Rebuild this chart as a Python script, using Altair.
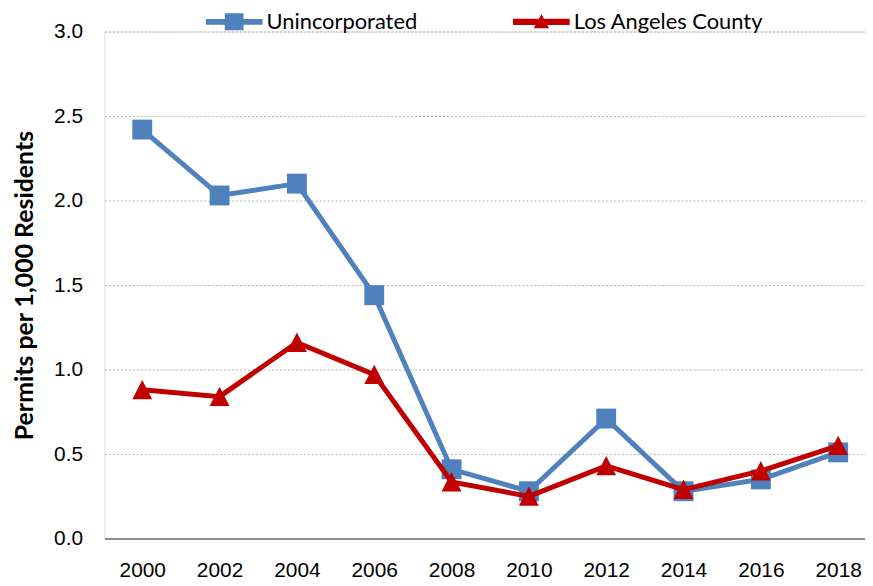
import altair as alt
import pandas as pd

years = ["2000", "2002", "2004", "2006", "2008", "2010", "2012", "2014", "2016", "2018"]
unincorporated = [2.42, 2.03, 2.10, 1.44, 0.41, 0.28, 0.71, 0.28, 0.35, 0.51]
la_county = [0.88, 0.84, 1.16, 0.97, 0.335, 0.25, 0.43, 0.29, 0.40, 0.55]
series_names = ["Unincorporated", "Los Angeles County"]
series_colors = ["#4F81BD", "#C00000"]

rows = []
for y, v in zip(years, unincorporated):
    rows.append({"year": y, "value": v, "series": series_names[0]})
for y, v in zip(years, la_county):
    rows.append({"year": y, "value": v, "series": series_names[1]})
df = pd.DataFrame(rows)

SQUARE = "M-1,-1H1V1H-1Z"
TRIANGLE = "M0,-1L1,0.95L-1,0.95Z"
LEG_SQ = "M-1,-0.1H1V0.1H-1Z M-0.33,-0.3H0.33V0.3H-0.33Z"
LEG_TRI = "M-1,-0.11H1V0.11H-1Z M0,-0.28L0.27,0.23L-0.27,0.23Z"

x_enc = alt.X(
    "year:O",
    sort=years,
    scale=alt.Scale(type="point", padding=0.418, align=0.585),
    axis=alt.Axis(
        title=None, labelAngle=0, ticks=False, grid=False,
        labelFont="Liberation Sans", labelFontSize=21, labelColor="#000000",
        labelPadding=21, domain=True, domainColor="#8c8c8c", domainWidth=2,
    ),
)
y_enc = alt.Y(
    "value:Q",
    scale=alt.Scale(domain=[0, 3], nice=False),
    axis=alt.Axis(
        title="Permits per 1,000 Residents", values=[0, 0.5, 1, 1.5, 2, 2.5, 3],
        format=".1f", ticks=False, domain=False,
        labelFont="Liberation Sans", labelFontSize=21, labelColor="#000000",
        labelPadding=22, gridColor="#b4b4b4", gridDash=[2, 2], gridWidth=1,
        titleFont="Lato", titleFontSize=25, titleFontWeight="bold", titleColor="#000000",
        titlePadding=16,
    ),
)

base = alt.Chart(df)
layers = []
for name, shape, col in zip(series_names, [SQUARE, TRIANGLE], series_colors):
    sub = base.transform_filter(alt.datum.series == name)
    layers.append(sub.mark_line(strokeWidth=5, color=col).encode(x=x_enc, y=y_enc))
    layers.append(
        sub.mark_point(filled=True, opacity=1, size=400, shape=shape, strokeWidth=0, color=col).encode(
            x=x_enc, y=y_enc
        )
    )

legend_def = alt.Legend(
    orient="none", legendX=102, legendY=-38.5, direction="horizontal",
    symbolSize=3249, labelFont="Lato", labelFontSize=22, labelColor="#000000",
    labelOffset=4, columnPadding=96, padding=0, symbolStrokeWidth=0,
    labelLimit=400,
)

ghost = base.transform_filter("datum.value < -100").mark_point(filled=True, opacity=1).encode(
    x=x_enc,
    y=y_enc,
    color=alt.Color(
        "series:N",
        scale=alt.Scale(domain=series_names, range=series_colors),
        title=None,
        legend=legend_def,
    ),
    shape=alt.Shape(
        "series:N",
        scale=alt.Scale(domain=series_names, range=[LEG_SQ, LEG_TRI]),
        title=None,
        legend=legend_def,
    ),
)
layers.append(ghost)

chart = alt.layer(*layers).properties(
    width=765, height=510,
    autosize=alt.AutoSizeParams(type="none"),
    padding={"left": 97, "top": 22, "right": 0, "bottom": 40},
).configure_view(stroke=None).configure(background="white")

chart.save("out.html", embed_options={"renderer": "svg", "actions": False})
